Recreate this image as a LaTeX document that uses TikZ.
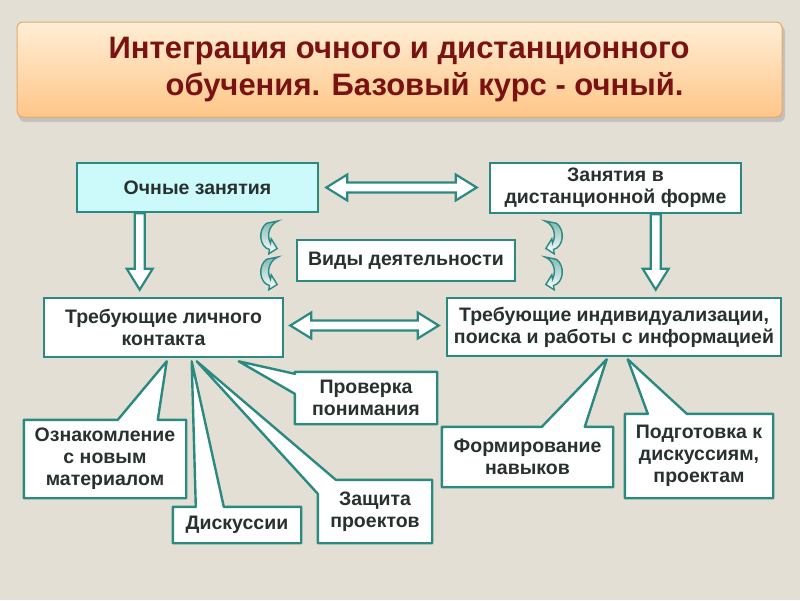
\documentclass[tikz,border=0pt]{standalone}
\usepackage{fontspec}
\setmainfont{Liberation Sans}
\usetikzlibrary{calc}
\pgfdeclarelayer{bg}
\pgfdeclarelayer{background}
\pgfsetlayers{bg,background,main}
\definecolor{bgc}{RGB}{228,223,213}
\definecolor{teal1}{RGB}{42,138,130}
\definecolor{cyanfill}{RGB}{204,250,250}
\definecolor{txt}{RGB}{40,48,48}
\definecolor{titletxt}{RGB}{122,18,18}
\definecolor{ttop}{RGB}{255,238,214}
\definecolor{tbot}{RGB}{255,198,136}
\definecolor{tborder}{RGB}{228,170,100}
\newcommand\boxfont{\fontsize{19.5}{22}\selectfont\bfseries}
\newcommand\ttlfont{\fontsize{31}{37}\selectfont\bfseries}
\newcommand\hdarr[2]{\draw[harrow] let \p1=(#1), \p2=(#2) in (\x1,\y1) -- (\x1+21pt,\y1+13pt) -- (\x1+21pt,\y1+5pt) -- (\x2-21pt,\y1+5pt) -- (\x2-21pt,\y1+13pt) -- (\x2,\y1) -- (\x2-21pt,\y1-13pt) -- (\x2-21pt,\y1-5pt) -- (\x1+21pt,\y1-5pt) -- (\x1+21pt,\y1-13pt) -- cycle;}
\newcommand\vdarr[2]{\draw[harrow] let \p1=(#1), \p2=(#2) in (\x1-5pt,\y1) -- (\x1-5pt,\y2+21pt) -- (\x1-13pt,\y2+21pt) -- (\x1,\y2) -- (\x1+13pt,\y2+21pt) -- (\x1+5pt,\y2+21pt) -- (\x1+5pt,\y1) -- cycle;}
\begin{document}
\begin{tikzpicture}[x=1pt,y=-1pt,
  box/.style={draw=teal1, line width=2.6pt, fill=white, font=\boxfont, text=txt, align=center, inner sep=0pt},
  ctext/.style={font=\boxfont, text=txt, align=center, inner sep=0pt},
  callout/.style={draw=teal1, line width=2.4pt, fill=white, line join=round},
  harrow/.style={draw=teal1, fill=white, line width=2.2pt, line join=miter},
  crescent/.pic={\draw[draw=teal1, line width=1.4pt, top color=teal1!60!white, bottom color=white, line join=miter]
     (11,2) -- (25,0) .. controls (15,3) and (10,12) .. (15.6,20.1) -- (16.5,16.2) -- (24,25) -- (13.5,29.8) -- (14.4,25.9) .. controls (2,24) and (-1,8) .. (11,2) -- cycle;}
]
\useasboundingbox (0,0) rectangle (800,600);
\begin{pgfonlayer}{bg}
  \fill[bgc] (0,0) rectangle (800,600);
  \fill[black!35, opacity=0.5, rounded corners=6pt] (19,26) rectangle (785,122);
  \fill[black!25, opacity=0.5, rounded corners=6pt] (18,24) rectangle (784,120);
  \shade[top color=ttop, bottom color=tbot, draw=tborder, line width=1pt, rounded corners=6pt] (17,22) rectangle (782,117);
\end{pgfonlayer}

\node[font=\ttlfont, text=titletxt, align=left, inner sep=0pt] (title) at (399,70)
  {Интеграция очного и дистанционного\\\hspace*{57pt}обучения. Базовый курс - очный.};

\node[box, fill=cyanfill, minimum width=241pt, minimum height=49pt] (ochn) at (197.5,187.5) {Очные занятия};
\node[box, minimum width=251pt, minimum height=50pt] (dist) at (615.5,188) {Занятия в\\дистанционной форме};
\node[box, minimum width=218pt, minimum height=41pt] (vidy) at (406,260.5) {Виды деятельности};
\node[box, minimum width=239pt, minimum height=59pt] (lich) at (163.5,327.5) {Требующие личного\\контакта};
\node[box, minimum width=334pt, minimum height=58pt] (indiv) at (614,327) {Требующие индивидуализации,\\поиска и работы с информацией};

\node[ctext, minimum width=142pt, minimum height=52pt] (prov) at (366,398) {Проверка\\понимания};
\node[ctext, minimum width=162pt, minimum height=78pt] (ozn) at (105,459) {Ознакомление\\с новым\\материалом};
\node[ctext, minimum width=128pt, minimum height=36pt] (disk) at (237,525) {Дискуссии};
\node[ctext, minimum width=114pt, minimum height=63pt] (zash) at (375,511.5) {Защита\\проектов};
\node[ctext, minimum width=171pt, minimum height=60pt] (form) at (527.5,457) {Формирование\\навыков};
\node[ctext, minimum width=148pt, minimum height=84pt] (podg) at (699,456) {Подготовка к\\дискуссиям,\\проектам};

\coordinate (t1) at ($(lich.south west)+(124,3)$);
\coordinate (t2) at ($(lich.south west)+(149,3)$);
\coordinate (t3) at ($(lich.south west)+(154,3)$);
\coordinate (t4) at ($(lich.south west)+(196,3)$);
\coordinate (t5) at ($(indiv.south west)+(161,2)$);
\coordinate (t6) at ($(indiv.south west)+(182,2)$);

\begin{pgfonlayer}{background}
  \hdarr{$(ochn.east)+(7,0)$}{$(dist.west)+(-12,0)$}
  \hdarr{$(lich.east)+(6,-2)$}{$(indiv.west)+(-7,0)$}
  \vdarr{$(ochn.south west)+(64,0)$}{$(lich.north west)+(97,-7)$}
  \vdarr{$(dist.south west)+(167,0)$}{$(indiv.north west)+(210,-7)$}
  \pic[xscale=0.8, yscale=1.1] at (258,221) {crescent};
  \pic[xscale=0.8, yscale=1.1] at (258,257) {crescent};
  \pic[xscale=-0.8, yscale=1.1] at (565,221) {crescent};
  \pic[xscale=-0.8, yscale=1.1] at (565,257) {crescent};

  \draw[callout] (ozn.north west) -- ($(ozn.north west)+(94,0)$) -- (t1) -- ($(ozn.north west)+(134,0)$) -- (ozn.north east) -- (ozn.south east) -- (ozn.south west) -- cycle;
  \draw[callout] (disk.north west) -- ($(disk.north west)+(23,0)$) -- (t2) -- ($(disk.north west)+(51,0)$) -- (disk.north east) -- (disk.south east) -- (disk.south west) -- cycle;
  \draw[callout] ($(zash.north west)+(18,0)$) -- (zash.north east) -- (zash.south east) -- (zash.south west) -- ($(zash.north west)+(0,14)$) -- (t3) -- cycle;
  \draw[callout] ($(prov.north west)+(0,2)$) -- (t4) -- ($(prov.north west)+(0,22)$) -- (prov.south west) -- (prov.south east) -- (prov.north east) -- (prov.north west) -- cycle;
  \draw[callout] (form.north west) -- ($(form.north west)+(100,0)$) -- (t5) -- ($(form.north west)+(143,0)$) -- (form.north east) -- (form.south east) -- (form.south west) -- cycle;
  \draw[callout] (podg.north west) -- ($(podg.north west)+(23,0)$) -- (t6) -- ($(podg.north west)+(62,0)$) -- (podg.north east) -- (podg.south east) -- (podg.south west) -- cycle;
\end{pgfonlayer}
\end{tikzpicture}
\end{document}
